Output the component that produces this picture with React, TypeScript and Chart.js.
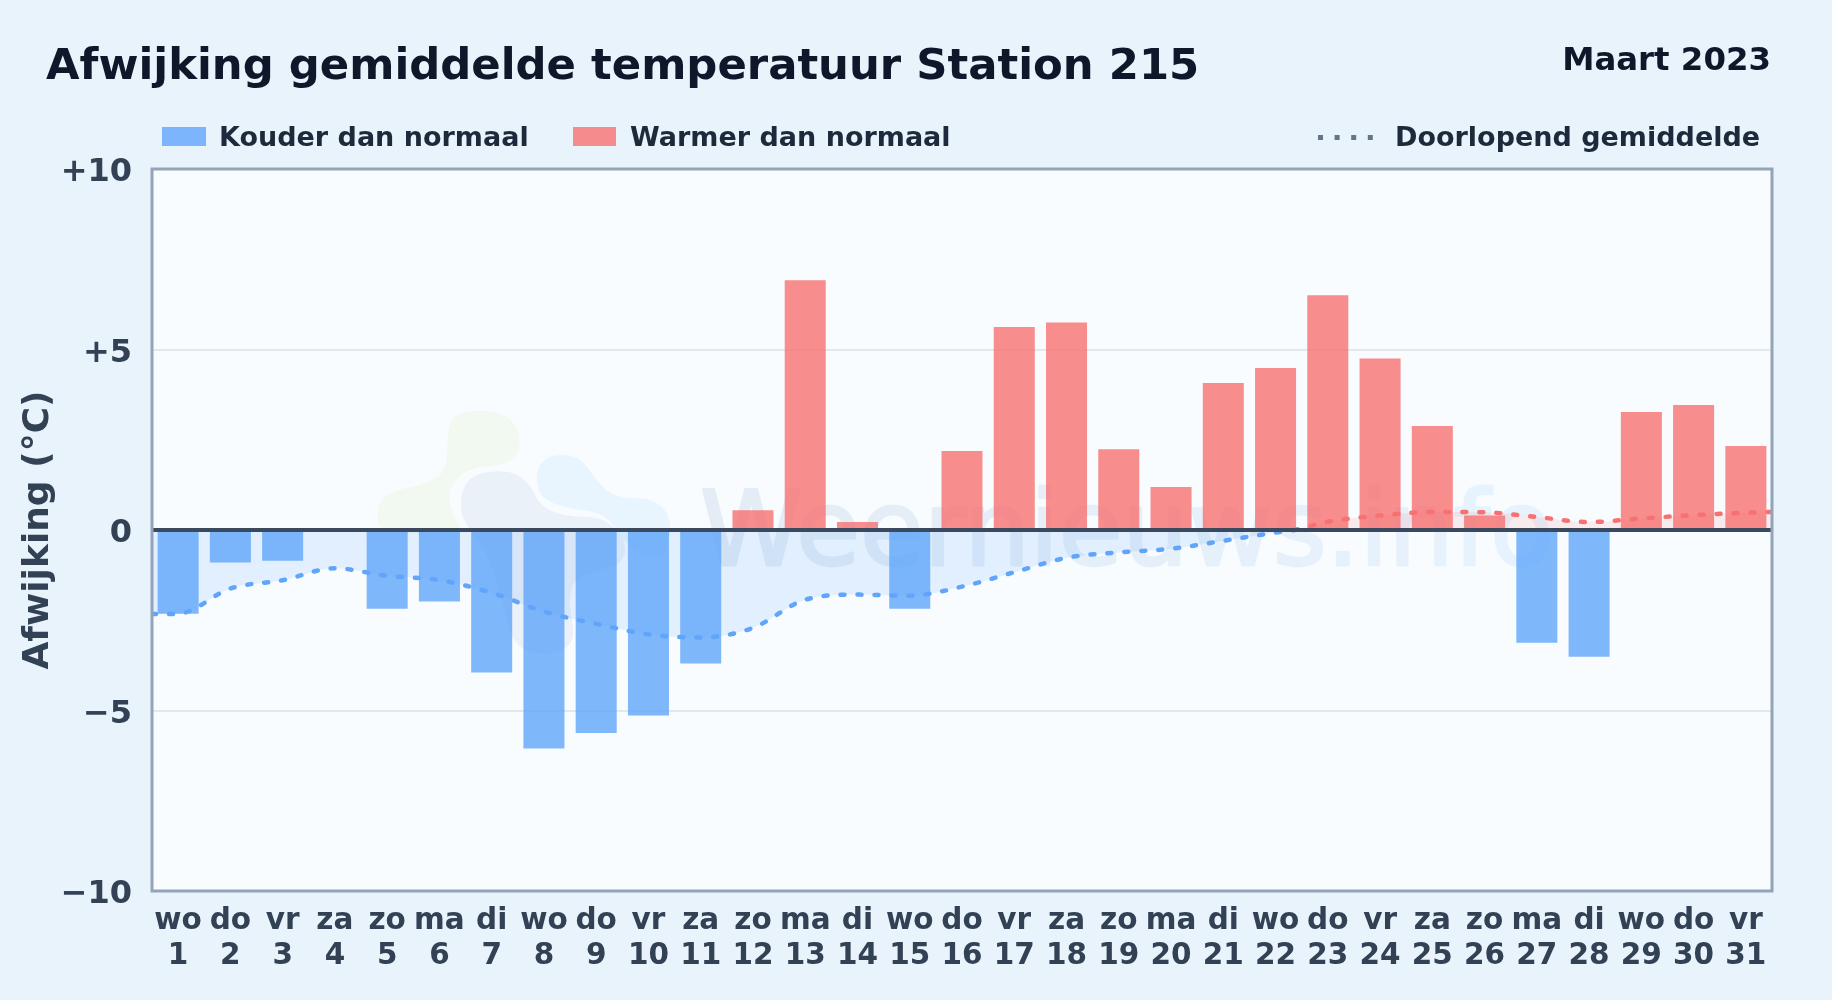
import React, { useEffect, useRef } from "react";
import { Chart, registerables } from "chart.js";

Chart.register(...registerables);

const FONT = '"DejaVu Sans", sans-serif';
const titel = "Afwijking gemiddelde temperatuur Station 215";
const periode = "Maart 2023";
const labelKoud = "Kouder dan normaal";
const labelWarm = "Warmer dan normaal";
const labelLijn = "Doorlopend gemiddelde";
const asTitel = "Afwijking (°C)";
const watermerk = "Weernieuws.info";

const dagen = ["wo","do","vr","za","zo","ma","di","wo","do","vr","za","zo","ma","di","wo","do","vr","za","zo","ma","di","wo","do","vr","za","zo","ma","di","wo","do","vr"];
const afwijking = [-2.32,-0.9,-0.85,null,-2.18,-1.98,-3.95,-6.05,-5.62,-5.14,-3.7,0.55,6.92,0.22,-2.18,2.19,5.62,5.75,2.24,1.19,4.07,4.49,6.5,4.75,2.88,0.4,-3.12,-3.51,3.27,3.46,2.33];
const lijnX = [0.5,1,2,3,4,5,6,7,8,9,10,11,12,13,14,15,16,17,18,19,20,21,22,22.35,23,24,25,26,27,28,29,30,31,31.5];
const lijnY = [-2.33,-2.32,-1.62,-1.39,-1.06,-1.27,-1.39,-1.74,-2.26,-2.6,-2.89,-2.98,-2.71,-1.93,-1.79,-1.82,-1.57,-1.17,-0.77,-0.62,-0.52,-0.3,-0.07,0,0.23,0.4,0.5,0.49,0.36,0.22,0.32,0.41,0.48,0.5];

const BLAUW = "rgba(96,165,250,0.8)";
const ROOD = "rgba(248,113,113,0.8)";
const BLAUW_LIJN = "#60a5fa";
const ROOD_LIJN = "#f87171";

function blob(ctx: CanvasRenderingContext2D, pts: number[][], color: string) {
  const P = pts.map(([x, y]) => [360 + x / 3, 390 + y / 3]);
  ctx.beginPath();
  const n = P.length;
  ctx.moveTo((P[n - 1][0] + P[0][0]) / 2, (P[n - 1][1] + P[0][1]) / 2);
  for (let i = 0; i < n; i++) {
    const q = P[(i + 1) % n];
    ctx.quadraticCurveTo(P[i][0], P[i][1], (P[i][0] + q[0]) / 2, (P[i][1] + q[1]) / 2);
  }
  ctx.closePath();
  ctx.fillStyle = color;
  ctx.fill();
}

const achtergrond = {
  id: "achtergrond",
  beforeDraw(chart: any) {
    const { ctx, chartArea: a } = chart;
    ctx.save();
    ctx.fillStyle = "#f8fcff";
    ctx.fillRect(a.left, a.top, a.right - a.left, a.bottom - a.top);
    ctx.restore();
  },
  beforeDatasetsDraw(chart: any) {
    const { ctx } = chart;
    ctx.save();
    blob(ctx, [[262,100],[305,62],[425,62],[480,120],[478,190],[435,226],[320,235],[262,300],[275,370],[320,432],[55,432],[50,345],[90,303],[210,280],[262,235]], "rgba(200,235,150,0.13)");
    blob(ctx, [[298,320],[335,250],[450,240],[510,280],[540,350],[620,380],[730,380],[800,450],[790,520],[700,545],[640,570],[625,640],[650,760],[560,800],[460,770],[430,640],[380,480],[310,400]], "rgba(30,70,140,0.06)");
    blob(ctx, [[525,250],[560,195],[655,195],[700,260],[760,325],[890,325],[940,400],[910,520],[800,470],[740,370],[620,355],[540,325]], "rgba(96,180,250,0.1)");
    const off = document.createElement("canvas");
    off.width = 1832;
    off.height = 1000;
    const o = off.getContext("2d")!;
    o.font = `400 103.5px ${FONT}`;
    o.textAlign = "left";
    o.textBaseline = "alphabetic";
    o.lineJoin = "round";
    o.lineWidth = 3;
    o.fillText(watermerk, 700, 565);
    o.strokeText(watermerk, 700, 565);
    o.globalCompositeOperation = "source-in";
    const g = o.createLinearGradient(700, 0, 1553, 0);
    g.addColorStop(0, "rgb(30,80,150)");
    g.addColorStop(1, "rgb(60,150,240)");
    o.fillStyle = g;
    o.fillRect(0, 0, 1832, 1000);
    ctx.globalAlpha = 0.085;
    ctx.drawImage(off, 0, 0);
    ctx.restore();
  },
  afterDraw(chart: any) {
    const { ctx, chartArea: a } = chart;
    ctx.save();
    ctx.strokeStyle = "#94a3b8";
    ctx.lineWidth = 3;
    ctx.strokeRect(a.left, a.top, a.right - a.left, a.bottom - a.top);
    ctx.textBaseline = "alphabetic";
    ctx.textAlign = "left";
    ctx.fillStyle = "#0f172a";
    ctx.font = `700 43.35px ${FONT}`;
    ctx.fillText(titel, 46, 79);
    ctx.textAlign = "right";
    ctx.font = `700 32.4px ${FONT}`;
    ctx.fillText(periode, 1771, 70);
    ctx.textAlign = "left";
    ctx.fillStyle = "#1e293b";
    ctx.font = `700 27px ${FONT}`;
    ctx.fillText(labelKoud, 219, 146);
    ctx.fillText(labelWarm, 630, 146);
    ctx.fillText(labelLijn, 1395, 146);
    ctx.fillStyle = BLAUW;
    ctx.fillRect(162, 127, 44, 19);
    ctx.fillStyle = ROOD;
    ctx.fillRect(573, 127, 43, 19);
    ctx.fillStyle = "#64748b";
    [0, 1, 2, 3].forEach((i) => ctx.fillRect(1318 + i * 16.6, 135, 5, 5));
    ctx.restore();
  },
};

export default function App() {
  const ref = useRef<HTMLCanvasElement>(null);
  useEffect(() => {
    const koud = afwijking.map((v, i) => ({ x: i + 1, y: v !== null && v < 0 ? v : null }));
    const warm = afwijking.map((v, i) => ({ x: i + 1, y: v !== null && v > 0 ? v : null }));
    const lijn = lijnX.map((x, i) => ({ x, y: lijnY[i] }));
    const chart = new Chart(ref.current!, {
      type: "bar",
      data: {
        datasets: [
          { type: "line", label: "Nullijn", data: [{ x: 0.5, y: 0 }, { x: 31.5, y: 0 }], borderColor: "#3b495e", borderWidth: 4, pointRadius: 0, order: -1 },
          {
            type: "line", label: labelLijn, data: lijn, pointRadius: 0, borderWidth: 4.5,
            borderDash: [4, 13], borderCapStyle: "round", cubicInterpolationMode: "monotone",
            borderColor: BLAUW_LIJN,
            segment: { borderColor: (c: any) => (c.p0.parsed.y >= 0 ? ROOD_LIJN : BLAUW_LIJN) },
            fill: { target: "origin", above: "rgba(248,113,113,0.12)", below: "rgba(96,165,250,0.15)" },
            order: 0,
          },
          { type: "bar", label: labelKoud, data: koud, backgroundColor: BLAUW, grouped: false, barPercentage: 0.785, categoryPercentage: 1, order: 2 },
          { type: "bar", label: labelWarm, data: warm, backgroundColor: ROOD, grouped: false, barPercentage: 0.785, categoryPercentage: 1, order: 2 },
        ],
      } as any,
      options: {
        animation: false,
        responsive: false,
        devicePixelRatio: 1,
        layout: { padding: { top: 169, right: 60, bottom: 0, left: 0 } },
        plugins: { legend: { display: false }, tooltip: { enabled: false }, title: { display: false } },
        scales: {
          x: {
            type: "linear", min: 0.5, max: 31.5, offset: false,
            afterFit: (s: any) => { s.height = 109; s.paddingLeft = 0; s.paddingRight = 0; },
            afterBuildTicks: (s: any) => { s.ticks = dagen.map((_, i) => ({ value: i + 1 })); },
            grid: { display: false, offset: false }, border: { display: false },
            ticks: {
              autoSkip: false, maxRotation: 0, minRotation: 0, padding: 5,
              color: "#334155", font: { family: FONT, weight: "700", size: 29.5, lineHeight: 1.18 },
              callback: (v: any) => [dagen[v - 1], String(v)],
            },
          },
          y: {
            min: -10, max: 10,
            afterFit: (s: any) => { s.width = 152; },
            grid: { color: (c: any) => (Math.abs(c.tick.value) === 5 ? "#e2e8f0" : "transparent"), lineWidth: 2, drawTicks: false },
            border: { display: false },
            title: { display: true, text: asTitel, color: "#334155", padding: { top: 17, bottom: 0 }, font: { family: FONT, weight: "700", size: 36 } },
            ticks: {
              stepSize: 5, padding: 20, labelOffset: 4, color: "#334155", font: { family: FONT, weight: "700", size: 32 },
              callback: (v: any) => (v > 0 ? `+${v}` : v < 0 ? `\u2212${-v}` : "0"),
            },
          },
        },
      } as any,
      plugins: [achtergrond],
    });
    return () => chart.destroy();
  }, []);
  return (
    <div style={{ position: "absolute", left: 0, top: 0, width: 1832, height: 1000, overflow: "hidden", background: "#e8f3fc" }}>
      <canvas ref={ref} width={1832} height={1000} style={{ display: "block", width: 1832, height: 1000 }} />
    </div>
  );
}
